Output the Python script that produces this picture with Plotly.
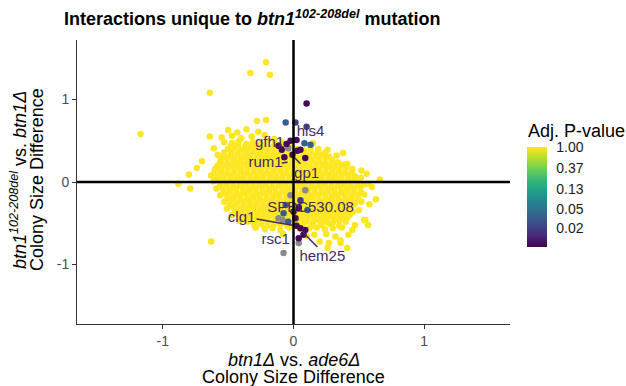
import math
import plotly.graph_objects as go

# ---------------- data ----------------
# non-significant genes (Adj. P ~ 1, yellow): outer rows + fringe
yellow_x = [
    -0.50, -0.43, -0.36, -0.27,
    -0.64, -0.55, -0.47, -0.40, -0.32, -0.22, -0.15,
    -0.53, -0.47, -0.42, -0.36, -0.31, -0.25, -0.20, -0.14, -0.09, -0.03, 0.15,
    -0.61, -0.50, -0.45, -0.40, -0.35, -0.29, -0.24, -0.19, -0.14, -0.09, -0.04, 0.02, 0.08, 0.13, 0.19, 0.26,
    -0.58, -0.53, -0.48, -0.43, -0.38, -0.33, -0.28, -0.23, -0.18, -0.13, -0.08, -0.03, 0.02, 0.07, 0.12, 0.17, 0.22, 0.27, 0.33,
    -0.70, -0.56, -0.51, -0.46, -0.41, -0.36, -0.31, -0.26, -0.21, -0.16, -0.11, -0.06, -0.01, 0.04, 0.09, 0.14, 0.19, 0.24, 0.29, 0.34, 0.41,
    -0.74, -0.60, -0.55, -0.50, -0.45, -0.40, -0.35, -0.30, -0.25, -0.20, -0.15, -0.10, -0.05, 0.00, 0.05, 0.10, 0.15, 0.20, 0.25, 0.30, 0.35, 0.40, 0.45, 0.52,
    -0.80, -0.63, -0.58, -0.53, -0.48, -0.43, -0.38, -0.33, -0.28, -0.23, -0.18, -0.13, -0.08, -0.03, 0.02, 0.07, 0.12, 0.17, 0.22, 0.27, 0.32, 0.37, 0.42, 0.47, 0.56,
    -0.88, -0.79, -0.61, -0.56, -0.51, -0.46, -0.41, -0.36, -0.31, -0.26, -0.21, -0.16, -0.11, -0.06, -0.01, 0.04, 0.09, 0.14, 0.19, 0.24, 0.29, 0.34, 0.39, 0.44, 0.49, 0.57, 0.66,
    -0.59, -0.54, -0.49, -0.44, -0.39, -0.34, -0.29, -0.24, -0.19, -0.14, -0.09, -0.04, 0.01, 0.06, 0.11, 0.16, 0.21, 0.26, 0.31, 0.36, 0.41, 0.46, 0.51, 0.60,
    -0.56, -0.51, -0.46, -0.41, -0.36, -0.31, -0.26, -0.21, -0.16, -0.11, -0.06, -0.01, 0.04, 0.09, 0.14, 0.19, 0.24, 0.29, 0.34, 0.39, 0.44, 0.49, 0.54, 0.63,
    -0.53, -0.48, -0.43, -0.38, -0.33, -0.28, -0.23, -0.18, -0.13, -0.08, -0.03, 0.02, 0.07, 0.12, 0.17, 0.22, 0.27, 0.32, 0.37, 0.42, 0.47, 0.52, 0.58,
    -0.51, -0.46, -0.41, -0.36, -0.31, -0.26, -0.21, -0.16, -0.11, -0.06, -0.01, 0.04, 0.09, 0.14, 0.19, 0.24, 0.29, 0.34, 0.39, 0.44, 0.50,
    -0.47, -0.42, -0.37, -0.32, -0.27, -0.22, -0.17, -0.12, -0.07, -0.02, 0.03, 0.08, 0.13, 0.18, 0.23, 0.28, 0.33, 0.38, 0.43, 0.54,
    -0.41, -0.35, -0.30, -0.25, -0.20, -0.15, -0.10, -0.05, 0.00, 0.05, 0.10, 0.15, 0.20, 0.25, 0.30, 0.35, 0.40, 0.47,
    -0.29, -0.22, -0.16, -0.10, -0.03, 0.05, 0.12, 0.18, 0.24, 0.30, 0.37,
    -0.08, 0.10, 0.16, 0.25, 0.32, 0.42,
    0.20, 0.27, 0.36, 0.26, 0.41,
    -1.17, -0.64, -0.33, -0.21, -0.18, -0.28, -0.21, -0.63, 0.38, 0.45, 0.55, 0.57, 0.36,
]
yellow_y = [
    0.63, 0.60, 0.64, 0.61,
    0.55, 0.54, 0.56, 0.53, 0.55, 0.57, 0.52,
    0.48, 0.47, 0.49, 0.46, 0.48, 0.47, 0.49, 0.46, 0.48, 0.45, 0.47,
    0.41, 0.40, 0.41, 0.39, 0.40, 0.41, 0.39, 0.40, 0.42, 0.40, 0.39, 0.40, 0.38, 0.41, 0.40, 0.39,
    0.33, 0.31, 0.32, 0.33, 0.31, 0.32, 0.33, 0.31, 0.32, 0.33, 0.31, 0.32, 0.30, 0.33, 0.31, 0.32, 0.33, 0.31, 0.32,
    0.25, 0.24, 0.23, 0.25, 0.24, 0.23, 0.25, 0.24, 0.23, 0.25, 0.24, 0.23, 0.25, 0.24, 0.23, 0.25, 0.24, 0.23, 0.25, 0.24, 0.22,
    0.17, 0.16, 0.15, 0.17, 0.16, 0.15, 0.17, 0.16, 0.15, 0.17, 0.16, 0.15, 0.17, 0.16, 0.15, 0.17, 0.16, 0.15, 0.17, 0.16, 0.15, 0.17, 0.16, 0.14,
    0.09, 0.08, 0.07, 0.09, 0.08, 0.07, 0.09, 0.08, 0.07, 0.09, 0.08, 0.07, 0.09, 0.08, 0.07, 0.09, 0.08, 0.07, 0.09, 0.08, 0.07, 0.09, 0.08, 0.07, 0.10,
    -0.02, -0.08, 0.01, 0.00, -0.01, 0.01, 0.00, -0.01, 0.01, 0.00, -0.01, 0.01, 0.00, -0.01, 0.01, 0.00, -0.01, 0.01, 0.00, -0.01, 0.01, 0.00, -0.01, 0.01, 0.00, -0.02, 0.03,
    -0.08, -0.07, -0.09, -0.08, -0.07, -0.09, -0.08, -0.07, -0.09, -0.08, -0.07, -0.09, -0.08, -0.07, -0.09, -0.08, -0.07, -0.09, -0.08, -0.07, -0.09, -0.08, -0.07, -0.06,
    -0.16, -0.15, -0.17, -0.16, -0.15, -0.17, -0.16, -0.15, -0.17, -0.16, -0.15, -0.17, -0.16, -0.15, -0.17, -0.16, -0.15, -0.17, -0.16, -0.15, -0.17, -0.16, -0.15, -0.21,
    -0.24, -0.23, -0.25, -0.24, -0.23, -0.25, -0.24, -0.23, -0.25, -0.24, -0.23, -0.25, -0.24, -0.23, -0.25, -0.24, -0.23, -0.25, -0.24, -0.23, -0.25, -0.24, -0.27,
    -0.32, -0.31, -0.33, -0.32, -0.31, -0.33, -0.32, -0.31, -0.33, -0.32, -0.31, -0.33, -0.32, -0.31, -0.33, -0.32, -0.31, -0.33, -0.32, -0.31, -0.34,
    -0.40, -0.39, -0.41, -0.40, -0.39, -0.41, -0.40, -0.39, -0.41, -0.40, -0.39, -0.41, -0.40, -0.39, -0.41, -0.40, -0.39, -0.41, -0.40, -0.46,
    -0.47, -0.48, -0.49, -0.47, -0.48, -0.49, -0.47, -0.48, -0.49, -0.47, -0.48, -0.49, -0.47, -0.48, -0.49, -0.47, -0.48, -0.52,
    -0.55, -0.57, -0.56, -0.58, -0.55, -0.57, -0.56, -0.55, -0.57, -0.56, -0.55,
    -0.63, -0.65, -0.64, -0.63, -0.66, -0.64,
    -0.72, -0.74, -0.71, -0.80, -0.80,
    0.58, 1.08, 1.32, 1.45, 1.30, 0.74, 0.75, -0.72, 0.35, -0.58, -0.46, -0.52, -0.74,
]

# non-significant genes in the dense core (between the rows above)
core_x = [
    -0.48, -0.425, -0.37, -0.315, -0.26, -0.205, -0.15, -0.095, -0.04,
    -0.53, -0.475, -0.42, -0.365, -0.31, -0.255, -0.20, -0.145, -0.09, -0.035, 0.02, 0.075, 0.13, 0.185, 0.24,
    -0.555, -0.505, -0.455, -0.405, -0.355, -0.305, -0.255, -0.205, -0.155, -0.105, -0.055, -0.005, 0.045, 0.095, 0.145, 0.195, 0.245, 0.295,
    -0.58, -0.53, -0.48, -0.43, -0.38, -0.33, -0.28, -0.23, -0.18, -0.13, -0.08, -0.03, 0.02, 0.07, 0.12, 0.17, 0.22, 0.27, 0.32, 0.37,
    -0.605, -0.555, -0.505, -0.455, -0.405, -0.355, -0.305, -0.255, -0.205, -0.155, -0.105, -0.055, -0.005, 0.045, 0.095, 0.145, 0.195, 0.245, 0.295, 0.345, 0.395, 0.445,
    -0.585, -0.535, -0.485, -0.435, -0.385, -0.335, -0.285, -0.235, -0.185, -0.135, -0.085, -0.035, 0.015, 0.065, 0.115, 0.165, 0.215, 0.265, 0.315, 0.365, 0.415, 0.465, 0.515,
    -0.56, -0.51, -0.46, -0.41, -0.36, -0.31, -0.26, -0.21, -0.16, -0.11, -0.06, -0.01, 0.04, 0.09, 0.14, 0.19, 0.24, 0.29, 0.34, 0.39, 0.44, 0.49, 0.54,
    -0.535, -0.485, -0.435, -0.385, -0.335, -0.285, -0.235, -0.185, -0.135, -0.085, -0.035, 0.015, 0.065, 0.115, 0.165, 0.215, 0.265, 0.315, 0.365, 0.415, 0.465, 0.515,
    -0.505, -0.455, -0.405, -0.355, -0.305, -0.255, -0.205, -0.155, -0.105, -0.055, -0.005, 0.045, 0.095, 0.145, 0.195, 0.245, 0.295, 0.345, 0.395, 0.445, 0.495,
    -0.485, -0.435, -0.385, -0.335, -0.285, -0.235, -0.185, -0.135, -0.085, -0.035, 0.015, 0.065, 0.115, 0.165, 0.215, 0.265, 0.315, 0.365, 0.415, 0.465,
    -0.445, -0.395, -0.345, -0.295, -0.245, -0.195, -0.145, -0.095, -0.045, 0.005, 0.055, 0.105, 0.155, 0.205, 0.255, 0.305, 0.355, 0.405, 0.455,
    -0.39, -0.34, -0.29, -0.24, -0.19, -0.14, -0.09, -0.04, 0.01, 0.06, 0.11, 0.16, 0.21, 0.26, 0.31, 0.36, 0.41,
    -0.30, -0.25, -0.20, -0.15, -0.10, -0.05, 0.00, 0.07, 0.14, 0.21, 0.28, 0.35,
]
core_y = [
    0.44, 0.45, 0.43, 0.44, 0.45, 0.43, 0.44, 0.45, 0.43,
    0.36, 0.37, 0.35, 0.36, 0.37, 0.35, 0.36, 0.37, 0.35, 0.36, 0.37, 0.35, 0.36, 0.37, 0.35,
    0.28, 0.29, 0.27, 0.28, 0.29, 0.27, 0.28, 0.29, 0.27, 0.28, 0.29, 0.27, 0.28, 0.29, 0.27, 0.28, 0.29, 0.27,
    0.20, 0.21, 0.19, 0.20, 0.21, 0.19, 0.20, 0.21, 0.19, 0.20, 0.21, 0.19, 0.20, 0.21, 0.19, 0.20, 0.21, 0.19, 0.20, 0.21,
    0.12, 0.13, 0.11, 0.12, 0.13, 0.11, 0.12, 0.13, 0.11, 0.12, 0.13, 0.11, 0.12, 0.13, 0.11, 0.12, 0.13, 0.11, 0.12, 0.13, 0.11, 0.12,
    0.04, 0.05, 0.03, 0.04, 0.05, 0.03, 0.04, 0.05, 0.03, 0.04, 0.05, 0.03, 0.04, 0.05, 0.03, 0.04, 0.05, 0.03, 0.04, 0.05, 0.03, 0.04, 0.05,
    -0.04, -0.03, -0.05, -0.04, -0.03, -0.05, -0.04, -0.03, -0.05, -0.04, -0.03, -0.05, -0.04, -0.03, -0.05, -0.04, -0.03, -0.05, -0.04, -0.03, -0.05, -0.04, -0.03,
    -0.12, -0.11, -0.13, -0.12, -0.11, -0.13, -0.12, -0.11, -0.13, -0.12, -0.11, -0.13, -0.12, -0.11, -0.13, -0.12, -0.11, -0.13, -0.12, -0.11, -0.13, -0.12,
    -0.20, -0.19, -0.21, -0.20, -0.19, -0.21, -0.20, -0.19, -0.21, -0.20, -0.19, -0.21, -0.20, -0.19, -0.21, -0.20, -0.19, -0.21, -0.20, -0.19, -0.21,
    -0.28, -0.27, -0.29, -0.28, -0.27, -0.29, -0.28, -0.27, -0.29, -0.28, -0.27, -0.29, -0.28, -0.27, -0.29, -0.28, -0.27, -0.29, -0.28, -0.27,
    -0.36, -0.35, -0.37, -0.36, -0.35, -0.37, -0.36, -0.35, -0.37, -0.36, -0.35, -0.37, -0.36, -0.35, -0.37, -0.36, -0.35, -0.37, -0.36,
    -0.44, -0.43, -0.45, -0.44, -0.43, -0.45, -0.44, -0.43, -0.45, -0.44, -0.43, -0.45, -0.44, -0.43, -0.45, -0.44, -0.43,
    -0.52, -0.51, -0.53, -0.52, -0.51, -0.53, -0.52, -0.51, -0.53, -0.52, -0.51, -0.53,
]

# genes without an adjusted p-value (grey)
na_x = [-0.04, -0.023, 0.09, -0.084, -0.115, -0.076, 0.04]
na_y = [0.41, -0.16, -0.10, -0.46, -0.44, -0.86, -0.74]

# significant genes
sig_x = [0.10, -0.06, 0.015, 0.10, 0.084, -0.023, -0.053, -0.09, 0.023, 0.053, 0.03, 0.09,
         0.13, -0.07, -0.008, -0.115,
         0.04, 0.0, 0.04, 0.107, -0.076, -0.04, 0.053, 0.09, 0.076, 0.04, 0.023, 0.015, -0.06, 0.053]
sig_y = [0.95, 0.72, 0.72, 0.67, 0.47, 0.50, 0.46, 0.39, 0.51, 0.39, 0.38, 0.29,
         0.45, 0.30, 0.33, 0.44,
         -0.30, -0.36, -0.32, -0.34, -0.38, -0.48, -0.56, -0.58, -0.64, -0.68, -0.53, -0.44, -0.28, -0.22]
sig_p = [0.009, 0.035, 0.021, 0.021, 0.035, 0.009, 0.009, 0.009, 0.009, 0.009, 0.009, 0.009,
         0.035, 0.009, 0.009, 0.009,
         0.021, 0.009, 0.009, 0.035, 0.035, 0.035, 0.009, 0.009, 0.009, 0.009, 0.009, 0.009, 0.035, 0.021]

# gene labels
gene_labels = ["his4", "gfh1", "rum1", "gp1", "SPBC530.08", "clg1", "rsc1", "hem25"]
label_x = [0.13, -0.183, -0.214, 0.10, 0.13, -0.397, -0.137, 0.221]
label_y = [0.606, 0.47, 0.23, 0.097, -0.315, -0.436, -0.703, -0.909]
# connector segments (label -> point)
seg_x = [-0.09, -0.045, None, 0.053, -0.008, None, -0.282, 0.023, None, 0.183, 0.069]
seg_y = [0.23, 0.24, None, 0.22, 0.32, None, -0.448, -0.533, None, -0.788, -0.606]

p_ticks = [1.00, 0.37, 0.13, 0.05, 0.02]
x_ticks = [-1, 0, 1]
y_ticks = [-1, 0, 1]

# ---------------- figure ----------------
FONT = "Liberation Sans, Arial, sans-serif"
LABEL_COL = "#45295f"
MS = 6.5
W, H = 626, 386
L, R, T, B = 77, 116, 40, 62
PW, PH = W - L - R, H - T - B


def px_x(p):
    return (p - L) / PW


def px_y(p):
    return (H - B - p) / PH


fig = go.Figure()

all_yellow_x = yellow_x + core_x
all_yellow_y = yellow_y + core_y
fig.add_trace(go.Scatter(
    x=all_yellow_x, y=all_yellow_y, mode="markers",
    marker=dict(size=MS, color=[math.log(1.0)] * len(all_yellow_x), coloraxis="coloraxis"),
    hoverinfo="skip", showlegend=False))

fig.add_trace(go.Scatter(
    x=na_x, y=na_y, mode="markers",
    marker=dict(size=MS, color="#8a8a8a"),
    hoverinfo="skip", showlegend=False))

fig.add_trace(go.Scatter(
    x=sig_x, y=sig_y, mode="markers",
    marker=dict(size=MS, color=[math.log(p) for p in sig_p], coloraxis="coloraxis"),
    hoverinfo="skip", showlegend=False))

fig.add_trace(go.Scatter(
    x=seg_x, y=seg_y, mode="lines",
    line=dict(color=LABEL_COL, width=1.5),
    hoverinfo="skip", showlegend=False))

fig.add_trace(go.Scatter(
    x=label_x, y=label_y, mode="text", text=gene_labels,
    textposition="middle center",
    textfont=dict(family=FONT, size=15, color=LABEL_COL),
    hoverinfo="skip", showlegend=False))

# reference lines at 0
fig.add_shape(type="line", xref="x", yref="paper", x0=0, x1=0, y0=0, y1=1,
              line=dict(color="black", width=2.5), layer="above")
fig.add_shape(type="line", xref="paper", yref="y", x0=0, x1=1, y0=0, y1=0,
              line=dict(color="black", width=2.5), layer="above")

axis_common = dict(showline=True, linecolor="#333333", linewidth=1,
                   ticks="outside", ticklen=4, tickcolor="#333333",
                   showgrid=False, zeroline=False,
                   tickfont=dict(family=FONT, size=14, color="#4d4d4d"))

fig.update_xaxes(range=[-1.656, 1.656], tickvals=x_ticks,
                 ticktext=[str(v) for v in x_ticks], **axis_common)
fig.update_yaxes(range=[-1.72, 1.72], tickvals=y_ticks,
                 ticktext=[str(v) for v in y_ticks], **axis_common)

fig.update_layout(
    width=W, height=H,
    margin=dict(l=L, r=R, t=T, b=B, autoexpand=False),
    paper_bgcolor="white", plot_bgcolor="white",
    font=dict(family=FONT, color="black"),
    title=dict(
        text="<b>Interactions unique to <i>btn1</i><sup><i>102-208del</i></sup> mutation</b>",
        font=dict(family=FONT, size=18, color="black"),
        x=64 / W, xanchor="left", xref="container",
        y=1 - 19 / H, yanchor="middle", yref="container"),
    coloraxis=dict(
        colorscale="Viridis", cmin=-4.8, cmax=0,
        colorbar=dict(
            tickvals=[math.log(p) for p in p_ticks],
            ticktext=["%.2f" % p for p in p_ticks],
            tickfont=dict(family=FONT, size=14, color="#1a1a1a"),
            ticks="outside", ticklen=7, tickcolor="white",
            outlinewidth=0, thickness=20,
            len=100, lenmode="pixels",
            x=px_x(527), xanchor="left", xpad=0,
            y=px_y(197), yanchor="middle", ypad=0),
    ),
    annotations=[
        dict(text="Adj. P-value", xref="paper", yref="paper",
             x=px_x(526), y=px_y(131), xanchor="left", yanchor="middle",
             showarrow=False, font=dict(family=FONT, size=18, color="black")),
        dict(text="<i>btn1Δ</i> vs. <i>ade6Δ</i>", xref="paper", yref="paper",
             x=0.5, y=px_y(360), xanchor="center", yanchor="middle",
             showarrow=False, font=dict(family=FONT, size=18, color="black")),
        dict(text="Colony Size Difference", xref="paper", yref="paper",
             x=0.5, y=px_y(377), xanchor="center", yanchor="middle",
             showarrow=False, font=dict(family=FONT, size=18, color="black")),
        dict(text="<i>btn1</i><sup><i>102-208del</i></sup> vs. <i>btn1Δ</i>",
             xref="paper", yref="paper", textangle=-90,
             x=px_x(18), y=px_y(180), xanchor="center", yanchor="middle",
             showarrow=False, font=dict(family=FONT, size=18, color="black")),
        dict(text="Colony Size Difference",
             xref="paper", yref="paper", textangle=-90,
             x=px_x(37), y=px_y(180), xanchor="center", yanchor="middle",
             showarrow=False, font=dict(family=FONT, size=18, color="black")),
    ],
)

fig.write_html("out.html", config={"displayModeBar": False},
               post_script="document.body.style.margin='0px';")
